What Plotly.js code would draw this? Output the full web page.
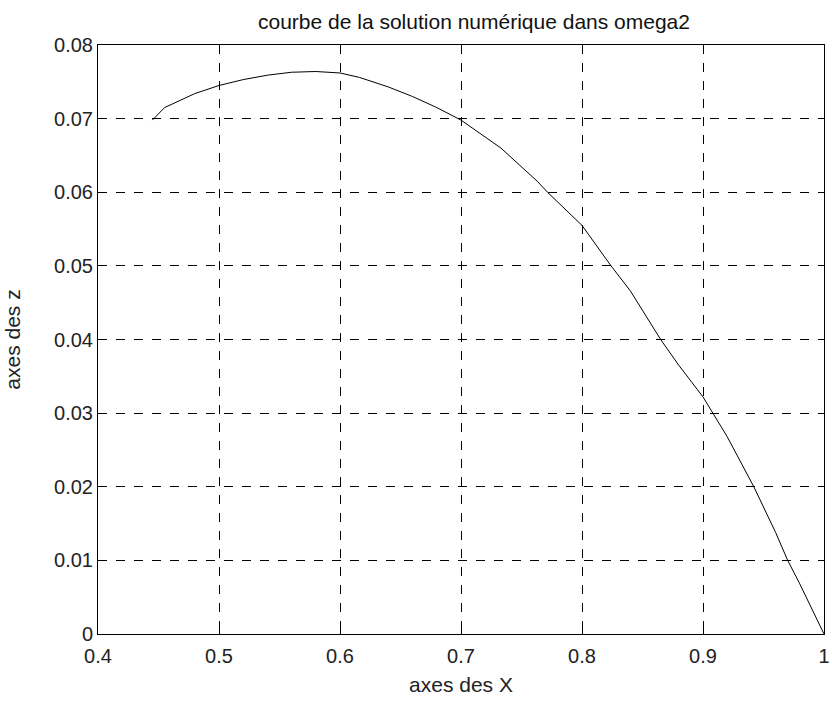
<!DOCTYPE html>
<html>
<head>
<meta charset="utf-8">
<script src="https://cdn.plot.ly/plotly-3.0.1.min.js"></script>
<style>html,body{margin:0;padding:0;background:#fff;}#chart{width:832px;height:702px;}</style>
</head>
<body>
<div id="chart"></div>
<script>
const xValues = [0.445, 0.455, 0.48, 0.50, 0.52, 0.54, 0.56, 0.58, 0.60, 0.616, 0.64, 0.66, 0.68, 0.70, 0.733, 0.763, 0.7715, 0.80, 0.824, 0.84, 0.865, 0.88, 0.90, 0.908, 0.92, 0.942, 0.96, 0.97, 0.98, 1.0];
const zValues = [0.0698, 0.0715, 0.0734, 0.0745, 0.0753, 0.0759, 0.0763, 0.0764, 0.0762, 0.0756, 0.0743, 0.0730, 0.0715, 0.0698, 0.0660, 0.0615, 0.0600, 0.0555, 0.0500, 0.0466, 0.0400, 0.0365, 0.0322, 0.0300, 0.0268, 0.0200, 0.0138, 0.0100, 0.0068, 0.0];
const xTicks = [0.4, 0.5, 0.6, 0.7, 0.8, 0.9, 1];
const xTickText = ['0.4', '0.5', '0.6', '0.7', '0.8', '0.9', '1'];
const yTicks = [0, 0.01, 0.02, 0.03, 0.04, 0.05, 0.06, 0.07, 0.08];
const yTickText = ['0', '0.01', '0.02', '0.03', '0.04', '0.05', '0.06', '0.07', '0.08'];

const font = 'Liberation Sans, Arial, sans-serif';
const axisCommon = {
  showline: true, linecolor: '#000', linewidth: 1, mirror: 'ticks',
  ticks: 'inside', ticklen: 6, tickcolor: '#000',
  showgrid: true, gridcolor: '#000', gridwidth: 1, griddash: 'dash',
  zeroline: false, tickfont: {family: font, size: 20, color: '#222'}
};
Plotly.newPlot('chart', [{
  x: xValues, y: zValues, type: 'scatter', mode: 'lines',
  line: {color: '#000', width: 1}, showlegend: false, hoverinfo: 'skip', cliponaxis: false
}], {
  width: 832, height: 702,
  margin: {l: 98, r: 8, t: 45, b: 68},
  paper_bgcolor: '#fff', plot_bgcolor: '#fff',
  title: {text: 'courbe de la solution numérique dans omega2', font: {family: font, size: 21, color: '#111'},
    x: (474 - 98) / (832 - 98 - 8), xref: 'paper', xanchor: 'center', y: 1 - 22 / 702, yref: 'container', yanchor: 'middle'},
  xaxis: Object.assign({}, axisCommon, {range: [0.4, 1], tickvals: xTicks, ticktext: xTickText, ticklabelstandoff: 4,
    title: {text: 'axes des X', font: {family: font, size: 21, color: '#222'}, standoff: 11}}),
  yaxis: Object.assign({}, axisCommon, {range: [0, 0.08], tickvals: yTicks, ticktext: yTickText,
    title: {text: 'axes des z', font: {family: font, size: 21, color: '#222'}, standoff: 27}})
}, {staticPlot: true});
</script>
</body>
</html>
